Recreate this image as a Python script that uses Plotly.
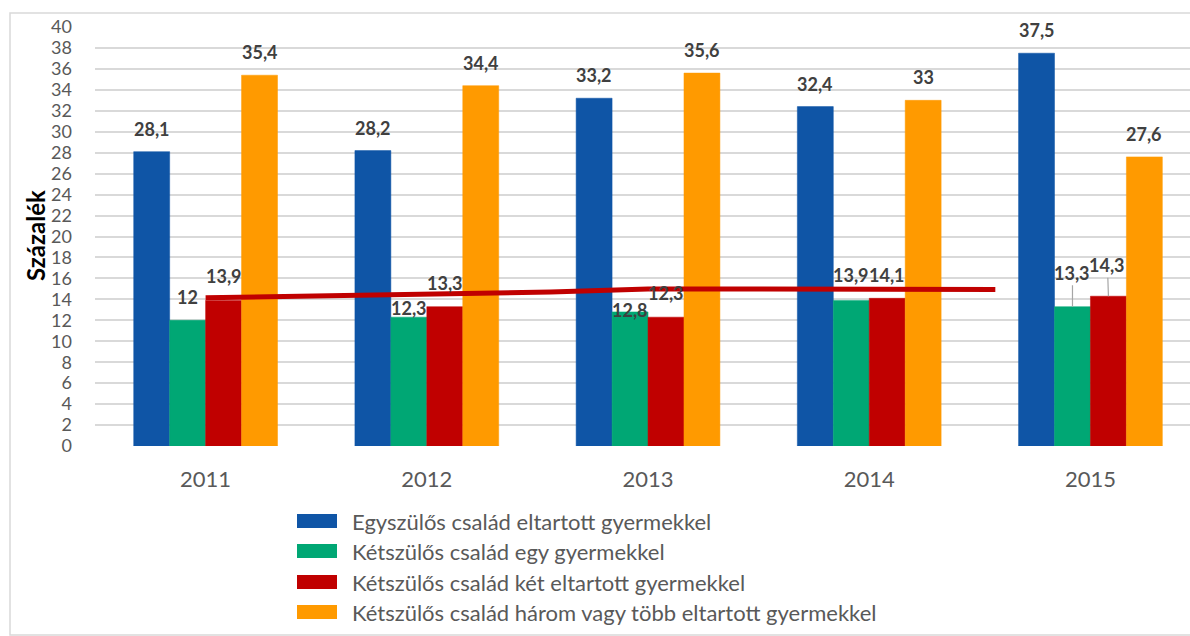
import plotly.graph_objects as go

# ---- data ----
years = ["2011", "2012", "2013", "2014", "2015"]
series_names = [
    "Egyszülős család eltartott gyermekkel",
    "Kétszülős család egy gyermekkel",
    "Kétszülős család két eltartott gyermekkel",
    "Kétszülős család három vagy több eltartott gyermekkel",
]
egyszulos = [28.1, 28.2, 33.2, 32.4, 37.5]
ketszulos_egy = [12.0, 12.3, 12.8, 13.9, 13.3]
ketszulos_ket = [13.9, 13.3, 12.3, 14.1, 14.3]
ketszulos_harom = [35.4, 34.4, 35.6, 33.0, 27.6]
series_values = [egyszulos, ketszulos_egy, ketszulos_ket, ketszulos_harom]

# hand-drawn red line (category-unit x, percent y)
line_x = [0.0, 1.0, 1.56, 2.0, 3.0, 3.57]
line_y = [14.15, 14.45, 14.7, 15.0, 15.0, 14.93]

y_ticks = list(range(0, 41, 2))

# ---- styles / positions ----
colors = ["#0F55A6", "#00A774", "#C00000", "#FF9A00"]
label_color = "#404040"
axis_text = "#595959"
font_family = "Lato, 'Open Sans', sans-serif"
W, H = 1190, 636
L, R_PX, T, B_PX = 95, 1190, 27, 446
bar_w = 0.1625

# per-label y shifts (px) and arrow offsets
label_shift = [
    [23, 23, 23, 23, 23],
    [23, 9, 2, 25, None],
    [24, 24, 24, 23, None],
    [23, 23, 23, 23, 23],
]
arrow_labels = {(1, 4): (0, -34), (2, 4): (-1, -31)}


def px_x(px):
    return (px - L) / (R_PX - L)


def px_y(py):
    return (B_PX - py) / (B_PX - T)


def fmt(v):
    return ("%g" % v).replace(".", ",")


fig = go.Figure()
for name, vals, col in zip(series_names, series_values, colors):
    fig.add_trace(go.Bar(
        x=years, y=vals, name=name, marker_color=col,
        marker_line=dict(color=col, width=0.5), showlegend=False,
    ))

fig.add_trace(go.Scatter(
    x=line_x, y=line_y, xaxis="x2", yaxis="y", mode="lines",
    line=dict(color="#C00000", width=5), showlegend=False, hoverinfo="skip",
))

label_font = dict(family=font_family, size=18, color=label_color, weight="bold")
annotations = []
for j, vals in enumerate(series_values):
    for i, v in enumerate(vals):
        xpos = i + (j - 1.5) * bar_w
        if (j, i) in arrow_labels:
            ax, ay = arrow_labels[(j, i)]
            annotations.append(dict(
                x=xpos, y=v, xref="x2", yref="y", text=fmt(v), showarrow=True,
                ax=ax, ay=ay, arrowhead=0, arrowwidth=1.2, arrowcolor="#A6A6A6",
                standoff=0, font=label_font,
            ))
        else:
            annotations.append(dict(
                x=xpos, y=v, xref="x2", yref="y", text=fmt(v), showarrow=False,
                yshift=label_shift[j][i], font=label_font,
            ))

# y-axis title
annotations.append(dict(
    x=px_x(35), y=px_y(236), xref="paper", yref="paper", text="Százalék",
    textangle=-90, showarrow=False, xanchor="center", yanchor="middle",
    font=dict(family=font_family, size=24, color="#000000", weight="bold"),
))

# manual legend
shapes = []
legend_rows = [521, 551, 582, 612]
for name, col, ry in zip(series_names, colors, legend_rows):
    shapes.append(dict(
        type="rect", xref="paper", yref="paper",
        x0=px_x(297), x1=px_x(337), y0=px_y(ry + 7), y1=px_y(ry - 7),
        fillcolor=col, line=dict(width=0),
    ))
    annotations.append(dict(
        x=px_x(350), y=px_y(ry), xref="paper", yref="paper", text=name,
        xanchor="left", yanchor="middle", showarrow=False,
        font=dict(family=font_family, size=22, color=axis_text),
    ))

# outer frame
shapes.append(dict(
    type="rect", xref="paper", yref="paper",
    x0=px_x(10), x1=px_x(1200), y0=px_y(635), y1=px_y(13),
    line=dict(color="#D9D9D9", width=1.5), fillcolor="rgba(0,0,0,0)", layer="below",
))

fig.update_layout(
    width=W, height=H,
    margin=dict(l=L, r=W - R_PX, t=T, b=H - B_PX),
    paper_bgcolor="white", plot_bgcolor="white",
    barmode="group", bargap=0.35, bargroupgap=0,
    font=dict(family=font_family, color=axis_text),
    separators=",.",
    xaxis=dict(
        type="category", range=[-0.5, 4.45], showgrid=False, showline=False,
        ticks="", tickfont=dict(size=22, color=axis_text), ticklabelstandoff=18,
        zeroline=False,
    ),
    xaxis2=dict(
        overlaying="x", range=[-0.5, 4.45], visible=False, showgrid=False,
        zeroline=False,
    ),
    yaxis=dict(
        range=[0, 40], tickvals=y_ticks, showgrid=True, gridcolor="#D9D9D9",
        gridwidth=2, showline=False, zeroline=False, ticks="",
        tickfont=dict(size=18, color=axis_text), ticklabelstandoff=22,
    ),
    annotations=annotations,
    shapes=shapes,
)

fig.write_html(
    "out.html",
    config={"displayModeBar": False},
    post_script="document.body.style.margin='0px';",
)
